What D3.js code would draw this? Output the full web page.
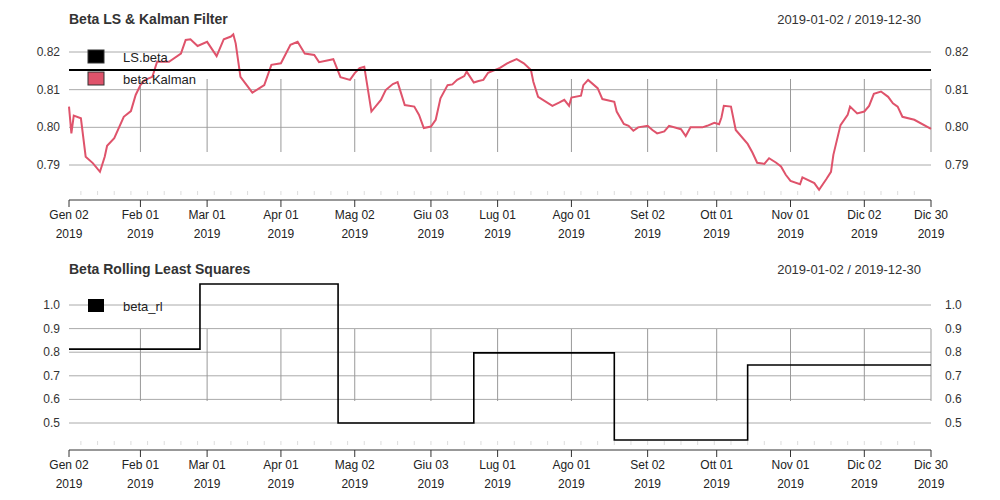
<!DOCTYPE html>
<html><head><meta charset="utf-8">
<script src="https://cdn.jsdelivr.net/npm/d3@7"></script>
<style>body{margin:0;background:#fff}text{font-family:"Liberation Sans",Arial,sans-serif}</style>
</head><body>
<svg id="chart" width="1000" height="500"></svg>
<script>
// data: days since 2019-01-02
var kalmanDays = [0,1,2,5,7,10,13,15,16,19,23,26,28,30,32,35,37,42,47,49,51,54,58,62,65,68,69,70,72,77,80,82,85,89,93,96,99,103,105,111,114,118,120,122,124,127,131,133,136,138,141,145,147,149,152,154,156,159,161,163,166,167,170,172,174,176,181,184,188,191,194,195,197,203,206,208,210,211,215,216,218,222,224,229,230,233,235,237,239,243,245,247,250,252,257,259,261,266,268,271,273,274,275,278,280,285,287,289,292,294,297,299,301,303,307,308,313,315,318,320,321,324,327,328,331,334,336,338,341,344,346,348,350,355,362];
var kalmanVals = [0.8055,0.7984,0.8031,0.8024,0.7922,0.7905,0.7882,0.7922,0.7951,0.7971,0.8028,0.8043,0.8086,0.8112,0.8126,0.8134,0.8174,0.8174,0.8196,0.8232,0.8234,0.8216,0.8227,0.8189,0.8234,0.8241,0.8247,0.8223,0.8134,0.8092,0.8104,0.8112,0.8166,0.8170,0.8219,0.8227,0.8196,0.8192,0.8173,0.8181,0.8133,0.8126,0.8144,0.8157,0.8161,0.8042,0.8073,0.8099,0.8115,0.8120,0.8059,0.8055,0.8033,0.7998,0.8002,0.8020,0.8077,0.8112,0.8114,0.8126,0.8136,0.8148,0.8119,0.8123,0.8126,0.8145,0.8158,0.8170,0.8181,0.8170,0.8152,0.8121,0.8081,0.8057,0.8066,0.8073,0.8057,0.8079,0.8084,0.8112,0.8126,0.8104,0.8075,0.8068,0.8042,0.8009,0.8004,0.7991,0.8000,0.8004,0.7993,0.7984,0.7989,0.8004,0.7995,0.7977,0.8000,0.8000,0.8004,0.8012,0.8008,0.8026,0.8057,0.8055,0.7993,0.7956,0.7933,0.7906,0.7903,0.7918,0.7906,0.7896,0.7874,0.7858,0.7849,0.7867,0.7852,0.7834,0.7862,0.7882,0.7927,0.8006,0.8033,0.8055,0.8037,0.8042,0.8057,0.8089,0.8095,0.8081,0.8064,0.8055,0.8028,0.8020,0.7996];
var lsBeta = 0.8152;
var rollStart = [0,55,113,170,229,285];
var rollVals = [0.813,1.089,0.500,0.797,0.428,0.746];
var tickDates = ["2019-01-02","2019-02-01","2019-03-01","2019-04-01","2019-05-02","2019-06-03","2019-07-01","2019-08-01","2019-09-02","2019-10-01","2019-11-01","2019-12-02","2019-12-30"];
var monthIt = ["Gen","Feb","Mar","Apr","Mag","Giu","Lug","Ago","Set","Ott","Nov","Dic"];
var topTicks = [0.79,0.80,0.81,0.82];
var botTicks = [0.5,0.6,0.7,0.8,0.9,1.0];

var svg = d3.select("#chart");
var parse = d3.timeParse("%Y-%m-%d");
var t0 = parse("2019-01-02"), t1 = parse("2019-12-30");
var x = d3.scaleTime().domain([t0, t1]).range([69, 931]);
var red = "#DF536B";
function dayToDate(d){ return d3.timeDay.offset(t0, d); }
var ticks = tickDates.map(parse);

function panel(top, axisY, y, yTicks, fmt, title, vFrom, vTo) {
  var g = svg.append("g");
  g.append("text").attr("x", 69).attr("y", top).attr("font-weight", "bold").attr("font-size", 14).attr("fill", "#333").text(title);
  g.append("text").attr("x", 921).attr("y", top).attr("text-anchor", "end").attr("font-size", 13).attr("fill", "#333").text("2019-01-02 / 2019-12-30");
  yTicks.forEach(function(v){
    g.append("line").attr("x1", 69).attr("x2", 931).attr("y1", y(v)).attr("y2", y(v)).attr("stroke", "#aaa").attr("stroke-width", 1);
    g.append("text").attr("x", 60).attr("y", y(v) + 4).attr("text-anchor", "end").attr("font-size", 12).attr("fill", "#333").text(fmt(v));
    g.append("text").attr("x", 945).attr("y", y(v) + 4).attr("font-size", 12).attr("fill", "#333").text(fmt(v));
  });
  ticks.slice(1).forEach(function(d){
    g.append("line").attr("x1", x(d)).attr("x2", x(d)).attr("y1", vFrom).attr("y2", vTo).attr("stroke", "#999").attr("stroke-width", 1);
  });
  // minor weekly ticks
  d3.timeMonday.range(t0, t1).forEach(function(d){
    g.append("line").attr("x1", x(d)).attr("x2", x(d)).attr("y1", axisY - 9).attr("y2", axisY - 5).attr("stroke", "#ddd");
  });
  g.append("line").attr("x1", 69).attr("x2", 931).attr("y1", axisY).attr("y2", axisY).attr("stroke", "#333");
  ticks.forEach(function(d){
    g.append("line").attr("x1", x(d)).attr("x2", x(d)).attr("y1", axisY).attr("y2", axisY + 7).attr("stroke", "#333");
    var t = g.append("text").attr("x", x(d)).attr("text-anchor", "middle").attr("font-size", 12).attr("fill", "#222");
    t.append("tspan").attr("x", x(d)).attr("y", axisY + 19).text(monthIt[d.getMonth()] + " " + d3.timeFormat("%d")(d));
    t.append("tspan").attr("x", x(d)).attr("y", axisY + 38).text("2019");
  });
  return g;
}

// top panel
var y1 = d3.scaleLinear().domain([0.79, 0.82]).range([165, 52]);
var g1 = panel(24, 200, y1, topTicks, d3.format(".2f"), "Beta LS & Kalman Filter", 79, 152);
var kal = kalmanDays.map(function(d, i){ return [dayToDate(d), kalmanVals[i]]; });
g1.append("path").datum(kal).attr("fill", "none").attr("stroke", red).attr("stroke-width", 2)
  .attr("d", d3.line().x(function(p){ return x(p[0]); }).y(function(p){ return y1(p[1]); }));
g1.append("line").attr("x1", 69).attr("x2", 931).attr("y1", y1(lsBeta)).attr("y2", y1(lsBeta)).attr("stroke", "#000").attr("stroke-width", 2);
[["LS.beta", "#000"], ["beta.Kalman", red]].forEach(function(l, i){
  g1.append("rect").attr("x", 88).attr("y", 50 + i * 22).attr("width", 16).attr("height", 13).attr("fill", l[1]).attr("stroke", "#333");
  g1.append("text").attr("x", 123).attr("y", 62 + i * 22).attr("font-size", 13).attr("fill", "#222").text(l[0]);
});

// bottom panel
var y2 = d3.scaleLinear().domain([0.5, 1.0]).range([423, 305]);
var g2 = panel(274, 450, y2, botTicks, d3.format(".1f"), "Beta Rolling Least Squares", 329, 401);
var roll = rollStart.map(function(d, i){ return [dayToDate(d), rollVals[i]]; });
roll.push([t1, rollVals[rollVals.length - 1]]);
g2.append("path").datum(roll).attr("fill", "none").attr("stroke", "#000").attr("stroke-width", 1.6)
  .attr("d", d3.line().curve(d3.curveStepAfter).x(function(p){ return x(p[0]); }).y(function(p){ return y2(p[1]); }));
g2.append("rect").attr("x", 88).attr("y", 299).attr("width", 16).attr("height", 13).attr("fill", "#000");
g2.append("text").attr("x", 123).attr("y", 311).attr("font-size", 13).attr("fill", "#222").text("beta_rl");
</script>
</body></html>
